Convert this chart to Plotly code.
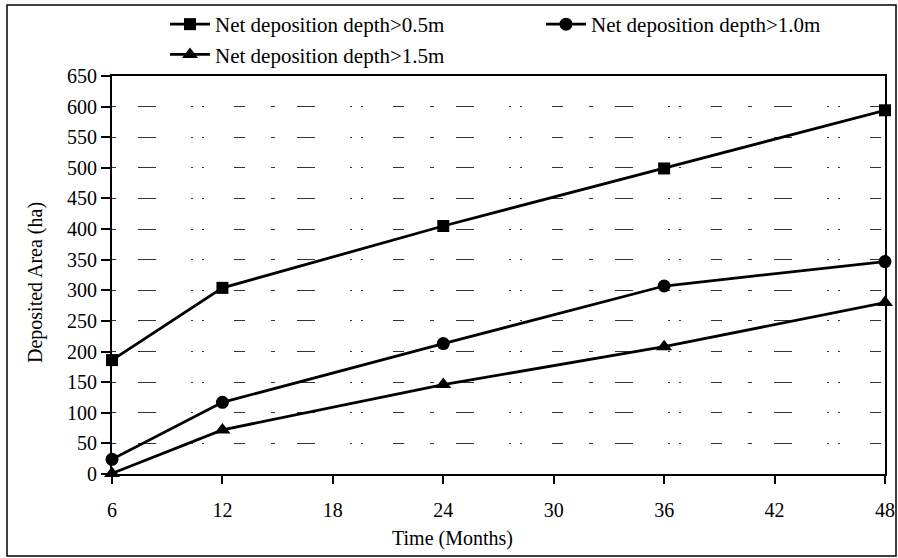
import plotly.graph_objects as go

# Deposited area (ha) over time for three net-deposition thresholds
months = [6, 12, 24, 36, 48]
depth_05 = [186, 304, 405, 499, 594]
depth_10 = [24, 117, 213, 307, 347]
depth_15 = [1, 72, 146, 208, 280]

x_ticks = [6, 12, 18, 24, 30, 36, 42, 48]
y_ticks = list(range(0, 651, 50))

# name, values, marker symbol, marker size, legend box
series = [
    ("Net deposition depth>0.5m", depth_05, "square", 12, "legend"),
    ("Net deposition depth>1.0m", depth_10, "circle", 13, "legend2"),
    ("Net deposition depth>1.5m", depth_15, "triangle-up", 14, "legend"),
]

W, H = 898, 558
ML, MR, MB = 112, 13, 84
PW = W - ML - MR          # plot width in px
PAPER_H = H - MB          # paper spans from the top edge down to the x axis
PLOT_H = 398              # height of the plotting area in px

def px_x(p):
    return (p - ML) / PW

def px_y(p):
    return (PAPER_H - p) / PAPER_H

FONT = "Liberation Serif, Times New Roman, serif"
TXT = dict(family=FONT, size=20, color="black")

fig = go.Figure()
for name, vals, sym, size, leg in series:
    fig.add_trace(go.Scatter(
        x=months, y=vals, name=name, mode="lines+markers",
        line=dict(color="black", width=2.8),
        marker=dict(symbol=sym, size=size, color="black"),
        cliponaxis=False, legend=leg,
    ))

legend_common = dict(
    orientation="v", xanchor="left", yanchor="top",
    font=dict(family=FONT, size=21, color="black"),
    bgcolor="rgba(0,0,0,0)", tracegroupgap=0,
    itemwidth=40, borderwidth=0,
)

fig.update_layout(
    width=W, height=H,
    margin=dict(l=ML, r=MR, t=0, b=MB, autoexpand=False),
    paper_bgcolor="white", plot_bgcolor="white",
    font=TXT,
    showlegend=True,
    legend=dict(x=px_x(165), y=px_y(4), **legend_common),
    legend2=dict(x=px_x(541), y=px_y(4), **legend_common),
    xaxis=dict(
        range=[6, 48], tickvals=x_ticks, ticktext=[str(v) for v in x_ticks],
        showgrid=False, zeroline=False,
        showline=True, linecolor="black", linewidth=2, mirror=True,
        ticks="outside", ticklen=8, tickwidth=1.5, tickcolor="black",
        tickfont=TXT, ticklabelstandoff=9,
    ),
    yaxis=dict(
        domain=[0, PLOT_H / PAPER_H],
        range=[0, 650], tickvals=y_ticks, ticktext=[str(v) for v in y_ticks],
        showgrid=True, gridcolor="#333", gridwidth=1,
        griddash="4px,22px,18px,35px,2px,9px,2px,30px,11px,26px",
        zeroline=False,
        showline=True, linecolor="black", linewidth=2, mirror=True,
        ticks="outside", ticklen=9, tickwidth=1.5, tickcolor="black",
        tickfont=TXT,
    ),
    annotations=[
        dict(text="Time (Months)", xref="paper", yref="paper",
             x=px_x(452), y=px_y(538), showarrow=False,
             font=TXT, xanchor="center", yanchor="middle"),
        dict(text="Deposited Area (ha)", xref="paper", yref="paper",
             x=px_x(36), y=px_y(283), showarrow=False, textangle=-90,
             font=TXT, xanchor="center", yanchor="middle"),
    ],
    shapes=[
        dict(type="rect", xref="paper", yref="paper",
             x0=px_x(7), x1=px_x(896), y0=px_y(556), y1=px_y(5),
             line=dict(color="black", width=1.5), fillcolor="rgba(0,0,0,0)",
             layer="below"),
    ],
)

fig.write_html("out.html")
